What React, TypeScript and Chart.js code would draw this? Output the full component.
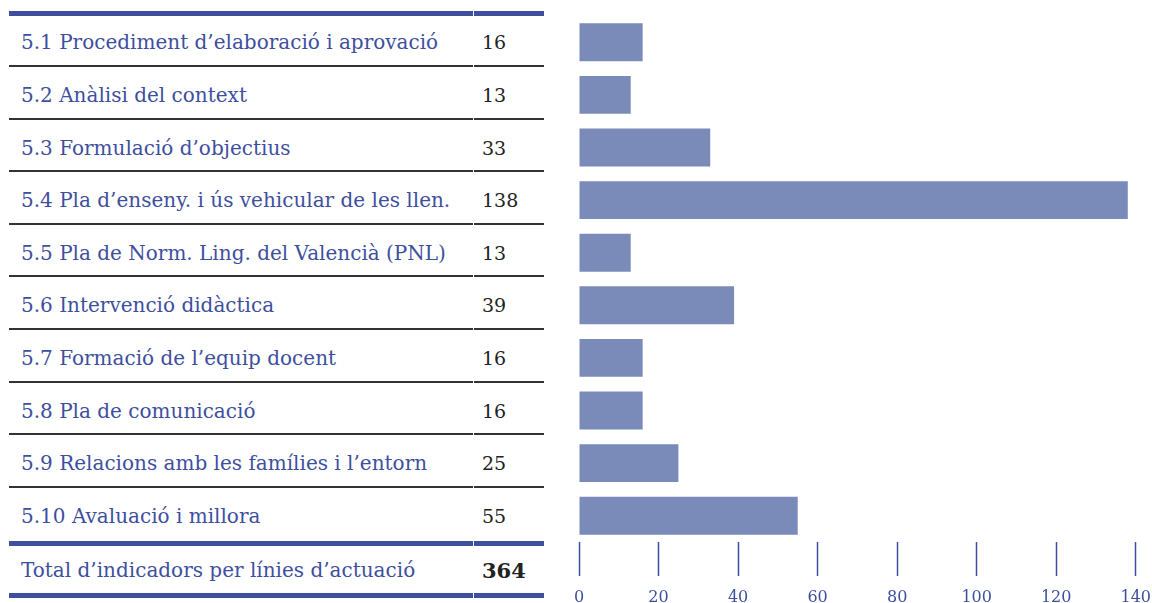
import React, { useEffect, useRef } from "react";
import { Chart, registerables } from "chart.js";

Chart.register(...registerables);

const categories = [
  "5.1 Procediment d’elaboració i aprovació",
  "5.2 Anàlisi del context",
  "5.3 Formulació d’objectius",
  "5.4 Pla d’enseny. i ús vehicular de les llen.",
  "5.5 Pla de Norm. Ling. del Valencià (PNL)",
  "5.6 Intervenció didàctica",
  "5.7 Formació de l’equip docent",
  "5.8 Pla de comunicació",
  "5.9 Relacions amb les famílies i l’entorn",
  "5.10 Avaluació i millora",
];
const values = [16, 13, 33, 138, 13, 39, 16, 16, 25, 55];
const totalLabel = "Total d’indicadors per línies d’actuació";
const totalValue = 364;
const axisMin = 0;
const axisMax = 140;
const axisStep = 20;

const NAVY = "#3e4f9e";
const BAR = "#7a8bb9";
const FONT = "'DejaVu Serif', serif";
const TOP = 16;
const ROW = 52.6;
const CANVAS_W = 603;

function Line({ top, height, color }: { top: number; height: number; color: string }) {
  return (
    <>
      <div style={{ position: "absolute", left: 9, width: 464, top, height, background: color }} />
      <div style={{ position: "absolute", left: 474, width: 70, top, height, background: color }} />
    </>
  );
}

function Cell({ center, text, value, bold }: { center: number; text: string; value: number; bold?: boolean }) {
  const h = 40;
  return (
    <>
      <div
        style={{
          position: "absolute",
          left: 21,
          top: center - h / 2,
          height: h,
          display: "flex",
          alignItems: "center",
          whiteSpace: "nowrap",
          fontFamily: FONT,
          fontSize: 20,
          color: NAVY,
        }}
      >
        {text}
      </div>
      <div
        style={{
          position: "absolute",
          left: 482,
          top: center - h / 2,
          height: h,
          display: "flex",
          alignItems: "center",
          whiteSpace: "nowrap",
          fontFamily: FONT,
          fontSize: bold ? 21 : 19,
          fontWeight: bold ? 700 : 400,
          color: "#222",
        }}
      >
        {value}
      </div>
    </>
  );
}

export default function App() {
  const ref = useRef<HTMLCanvasElement | null>(null);

  useEffect(() => {
    if (!ref.current) return;
    const chart = new Chart(ref.current, {
      type: "bar",
      data: {
        labels: categories,
        datasets: [
          {
            data: values,
            backgroundColor: BAR,
            borderWidth: 0,
            barPercentage: 0.72,
            categoryPercentage: 1,
          },
        ],
      },
      options: {
        indexAxis: "y",
        responsive: false,
        animation: false,
        layout: { padding: { top: TOP, left: 19, right: 25, bottom: 0 } },
        plugins: { legend: { display: false }, tooltip: { enabled: false } },
        scales: {
          y: { display: false },
          x: {
            min: axisMin,
            max: axisMax,
            ticks: {
              stepSize: axisStep,
              color: NAVY,
              font: { family: "DejaVu Serif", size: 16 },
              padding: 12,
              maxRotation: 0,
            },
            grid: {
              drawOnChartArea: false,
              drawTicks: true,
              tickLength: 34,
              tickColor: NAVY,
              tickWidth: 1.5,
            },
            border: { display: false },
            afterFit: (s: any) => {
              s.height = 61;
            },
          },
        },
      } as any,
    });
    return () => chart.destroy();
  }, []);

  return (
    <div
      style={{
        position: "fixed",
        left: 0,
        top: 0,
        width: 1152,
        height: 603,
        overflow: "hidden",
        background: "#fff",
      }}
    >
      <Line top={11} height={5} color={NAVY} />
      {categories.slice(1).map((_, k) => (
        <Line key={"s" + k} top={13.4 + ROW * (k + 1) - 1} height={2} color="#333" />
      ))}
      <Line top={541} height={4.5} color={NAVY} />
      <Line top={593} height={4.5} color={NAVY} />
      {categories.map((c, i) => (
        <Cell key={c} center={TOP + ROW * (i + 0.5)} text={c} value={values[i]} />
      ))}
      <Cell center={570} text={totalLabel} value={totalValue} bold />
      <canvas
        ref={ref}
        width={CANVAS_W}
        height={603}
        style={{ position: "absolute", left: 560, top: 0, width: CANVAS_W, height: 603 }}
      />
    </div>
  );
}
